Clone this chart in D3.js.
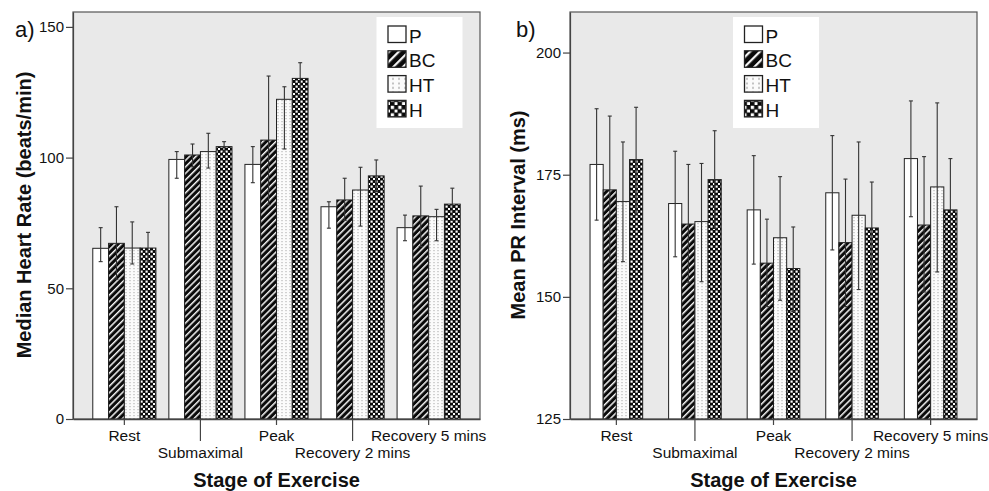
<!DOCTYPE html>
<html>
<head>
<meta charset="utf-8">
<script src="https://cdn.jsdelivr.net/npm/d3@7"></script>
<style>
  html, body { margin: 0; padding: 0; background: #fff; }
  svg { display: block; }
  text { font-family: "Liberation Sans", Arial, sans-serif; fill: #111; }
</style>
</head>
<body>
<svg id="chart" width="989" height="491"></svg>
<script>
// ---------- DATA ----------
const categories = ["Rest", "Submaximal", "Peak", "Recovery 2 mins", "Recovery 5 mins"];
const seriesNames = ["P", "BC", "HT", "H"];

// Panel a: Median Heart Rate (beats/min)
const hrTicks = [0, 50, 100, 150];
const hrP    = [65.3, 99.3, 97.4, 81.2, 73.2];
const hrPLo  = [60.2, 92.1, 90.4, 73.0, 68.2];
const hrPHi  = [73.2, 102.3, 104.2, 83.1, 78.0];
const hrBC   = [67.2, 101.0, 106.7, 83.8, 77.7];
const hrBCLo = [53.5, 96.5, 82.0, 76.0, 66.0];
const hrBCHi = [81.2, 105.2, 131.2, 92.1, 89.1];
const hrHT   = [65.4, 102.3, 122.3, 87.6, 77.4];
const hrHTLo = [59.3, 96.0, 103.3, 73.8, 68.2];
const hrHTHi = [75.4, 109.3, 127.1, 96.3, 80.2];
const hrH    = [65.4, 104.2, 130.3, 93.0, 82.2];
const hrHLo  = [60.0, 102.0, 124.0, 87.0, 76.0];
const hrHHi  = [71.4, 106.1, 136.3, 99.1, 88.3];

// Panel b: Mean PR Interval (ms)
const prTicks = [125, 150, 175, 200];
const prP    = [177.1, 169.1, 167.8, 171.3, 178.3];
const prPLo  = [165.7, 158.2, 156.7, 159.6, 166.4];
const prPHi  = [188.5, 179.8, 178.9, 183.0, 190.1];
const prBC   = [171.9, 164.9, 156.9, 161.1, 164.7];
const prBCLo = [157.0, 153.0, 148.0, 148.0, 151.0];
const prBCHi = [187.0, 177.1, 165.9, 174.1, 178.7];
const prHT   = [169.5, 165.4, 162.1, 166.7, 172.5];
const prHTLo = [157.2, 153.1, 149.3, 151.5, 155.1];
const prHTHi = [181.7, 177.3, 174.6, 181.7, 189.7];
const prH    = [178.1, 174.0, 155.8, 164.1, 167.8];
const prHLo  = [167.0, 164.0, 147.0, 154.0, 157.0];
const prHHi  = [188.8, 184.0, 164.3, 173.5, 178.3];

// ---------- DRAWING ----------
const svg = d3.select("#chart");
const defs = svg.append("defs");

// patterns
function makePatterns(suffix, scale) {
  // diagonal stripes (BC)
  const s = defs.append("pattern").attr("id", "stripe" + suffix)
    .attr("patternUnits", "userSpaceOnUse")
    .attr("width", 4.6 * scale).attr("height", 4.6 * scale)
    .attr("patternTransform", "rotate(45)");
  s.append("rect").attr("width", 4.6 * scale).attr("height", 4.6 * scale).attr("fill", "#0a0a0a");
  s.append("rect").attr("x", 0).attr("width", 1.5 * scale).attr("height", 4.6 * scale).attr("fill", "#f4f4f4");

  // light dotted (HT)
  const d = defs.append("pattern").attr("id", "dots" + suffix)
    .attr("patternUnits", "userSpaceOnUse")
    .attr("width", 4 * scale).attr("height", 3 * scale);
  d.append("rect").attr("width", 4 * scale).attr("height", 3 * scale).attr("fill", "#fbfbfb");
  d.append("rect").attr("x", 1.5 * scale).attr("y", 1 * scale).attr("width", 1 * scale).attr("height", 1.2 * scale).attr("fill", "#a8a8a8");

  // checkerboard (H)
  const c = defs.append("pattern").attr("id", "check" + suffix)
    .attr("patternUnits", "userSpaceOnUse")
    .attr("width", 5 * scale).attr("height", 5 * scale);
  c.append("rect").attr("width", 5 * scale).attr("height", 5 * scale).attr("fill", "#0a0a0a");
  c.append("rect").attr("x", 0.5 * scale).attr("y", 0.5 * scale).attr("width", 2.2 * scale).attr("height", 2.2 * scale).attr("fill", "#fff");
  c.append("rect").attr("x", 3 * scale).attr("y", 3 * scale).attr("width", 2.2 * scale).attr("height", 2.2 * scale).attr("fill", "#fff");
}
makePatterns("", 1);
makePatterns("L", 1.5);

const fills = { P: "#ffffff", BC: "url(#stripe)", HT: "url(#dots)", H: "url(#check)" };
const legendFills = { P: "#ffffff", BC: "url(#stripeL)", HT: "url(#dotsL)", H: "url(#checkL)" };

function drawPanel(cfg) {
  const g = svg.append("g");
  const { left, right, top, bottom } = cfg;

  const y = d3.scaleLinear().domain(cfg.domain).range([bottom, top]);
  const x0 = d3.scaleBand().domain(categories).range([left, right])
    .paddingInner(cfg.padInner).paddingOuter(cfg.padOuter);
  const x1 = d3.scaleBand().domain(seriesNames).range([0, x0.bandwidth()]).padding(0);

  // plot background + frame
  g.append("rect").attr("x", left).attr("y", top)
    .attr("width", right - left).attr("height", bottom - top)
    .attr("fill", "#e9e9e9").attr("stroke", "#555").attr("stroke-width", 1.2);

  // bars
  const rows = [];
  categories.forEach((c, i) => {
    seriesNames.forEach(s => {
      const d = cfg.series[s];
      rows.push({ cat: c, s: s, v: d.v[i], lo: d.lo[i], hi: d.hi[i] });
    });
  });

  g.append("g").selectAll("rect").data(rows).join("rect")
    .attr("x", d => x0(d.cat) + x1(d.s))
    .attr("y", d => y(d.v))
    .attr("width", x1.bandwidth())
    .attr("height", d => y(cfg.domain[0]) - y(d.v))
    .attr("fill", d => fills[d.s])
    .attr("stroke", "#222").attr("stroke-width", 1);

  // error bars
  const eb = g.append("g").attr("stroke", "#333").attr("stroke-width", 1.1);
  rows.forEach(d => {
    const cx = x0(d.cat) + x1(d.s) + x1.bandwidth() / 2;
    eb.append("line").attr("x1", cx).attr("x2", cx).attr("y1", y(d.hi)).attr("y2", y(d.lo));
    eb.append("line").attr("x1", cx - 2).attr("x2", cx + 2).attr("y1", y(d.hi)).attr("y2", y(d.hi));
    eb.append("line").attr("x1", cx - 2).attr("x2", cx + 2).attr("y1", y(d.lo)).attr("y2", y(d.lo));
  });

  // y axis
  const yAxis = d3.axisLeft(y).tickValues(cfg.ticks).tickSize(7).tickPadding(2).tickSizeOuter(0);
  const ya = g.append("g").attr("transform", `translate(${left},0)`).call(yAxis);
  ya.select(".domain").attr("stroke", "#444").attr("stroke-width", 1.2);
  ya.selectAll(".tick line").attr("stroke", "#444").attr("stroke-width", 1.2);
  ya.selectAll(".tick text").attr("font-size", 15).attr("fill", "#111")
    .attr("font-family", "Liberation Sans, Arial, sans-serif");

  // x axis (staggered labels)
  const xAxis = d3.axisBottom(x0).tickSizeOuter(0).tickSize(0);
  const xa = g.append("g").attr("transform", `translate(0,${bottom})`).call(xAxis);
  xa.select(".domain").attr("stroke", "#444").attr("stroke-width", 1.4);
  xa.selectAll(".tick line").remove();
  xa.selectAll(".tick").each(function (d, i) {
    const t = d3.select(this);
    const long = i % 2 === 1;
    t.append("line").attr("y1", 0).attr("y2", long ? 22 : 6).attr("stroke", "#444").attr("stroke-width", 1.2);
    t.select("text").attr("y", long ? 39 : 22).attr("dy", 0)
      .attr("font-size", 15.5).attr("fill", "#111")
      .attr("font-family", "Liberation Sans, Arial, sans-serif");
  });

  // axis titles
  g.append("text")
    .attr("transform", `translate(${cfg.yTitleX},${cfg.yTitleY}) rotate(-90)`)
    .attr("text-anchor", "middle").attr("font-size", 20).attr("font-weight", "bold")
    .text(cfg.yTitle);
  g.append("text").attr("x", (left + right) / 2).attr("y", 487)
    .attr("text-anchor", "middle").attr("font-size", 20).attr("font-weight", "bold")
    .text("Stage of Exercise");

  // panel label
  g.append("text").attr("x", cfg.labelX).attr("y", 37)
    .attr("font-size", 22).text(cfg.label);

  // legend
  const lg = g.append("g");
  lg.append("rect").attr("x", cfg.legX).attr("y", 17).attr("width", 86).attr("height", 111).attr("fill", "#fff");
  seriesNames.forEach((s, i) => {
    const yy = 26 + i * 24.8;
    lg.append("rect").attr("x", cfg.legX + 11.5).attr("y", yy).attr("width", 18).attr("height", 16.5)
      .attr("fill", legendFills[s]).attr("stroke", "#222").attr("stroke-width", 1.3);
    lg.append("text").attr("x", cfg.legX + 32.5).attr("y", yy + 16.5)
      .attr("font-size", 19).text(s);
  });
}

drawPanel({
  left: 73, right: 480, top: 12, bottom: 419,
  domain: [0, 155.7], ticks: hrTicks,
  padInner: 0.17, padOuter: 0.26,
  series: {
    P:  { v: hrP,  lo: hrPLo,  hi: hrPHi },
    BC: { v: hrBC, lo: hrBCLo, hi: hrBCHi },
    HT: { v: hrHT, lo: hrHTLo, hi: hrHTHi },
    H:  { v: hrH,  lo: hrHLo,  hi: hrHHi }
  },
  yTitle: "Median Heart Rate (beats/min)", yTitleX: 31, yTitleY: 215,
  label: "a)", labelX: 15, legX: 376.5
});

drawPanel({
  left: 570, right: 977, top: 12, bottom: 419,
  domain: [125, 208.3], ticks: prTicks,
  padInner: 0.33, padOuter: 0.255,
  series: {
    P:  { v: prP,  lo: prPLo,  hi: prPHi },
    BC: { v: prBC, lo: prBCLo, hi: prBCHi },
    HT: { v: prHT, lo: prHTLo, hi: prHTHi },
    H:  { v: prH,  lo: prHLo,  hi: prHHi }
  },
  yTitle: "Mean PR Interval (ms)", yTitleX: 525, yTitleY: 215,
  label: "b)", labelX: 516, legX: 733
});
</script>
</body>
</html>
